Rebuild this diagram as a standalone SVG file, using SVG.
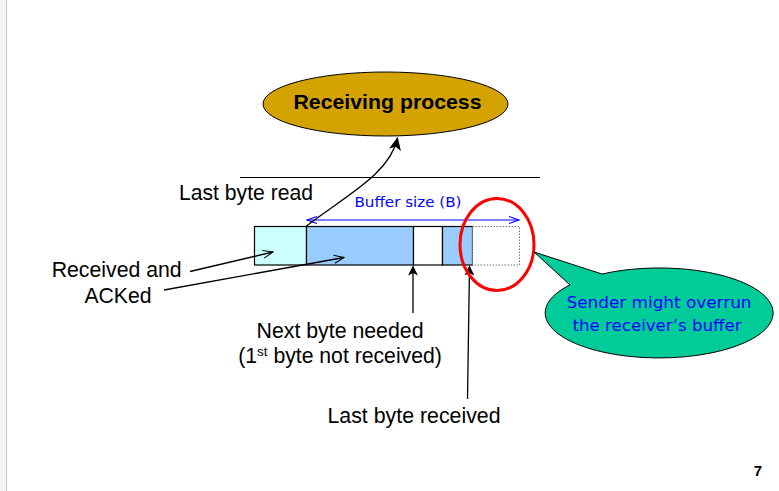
<svg xmlns="http://www.w3.org/2000/svg" width="779" height="491" viewBox="0 0 779 491">
<style>
.t{font-family:"Liberation Sans",Arial,sans-serif;font-size:21.2px;fill:#000}
.b{font-family:"DejaVu Sans",Verdana,sans-serif;fill:#0000FF}
.ln{stroke:#000;stroke-width:1.3;fill:none}
</style>
<defs>
<marker id="fh" markerWidth="10" markerHeight="10" refX="9" refY="5" orient="auto" markerUnits="userSpaceOnUse">
<path d="M0,0 L10,5 L0,10 L2.5,5 Z" fill="#000"/>
</marker>
<marker id="fh2" markerWidth="13" markerHeight="12" refX="12" refY="6" orient="auto" markerUnits="userSpaceOnUse">
<path d="M0,0 L13,6 L0,12 L3,6 Z" fill="#000"/>
</marker>
<marker id="oh" markerWidth="12" markerHeight="10" refX="11" refY="5" orient="auto" markerUnits="userSpaceOnUse">
<path d="M1,1 L11,5 L1,9" fill="none" stroke="#000" stroke-width="1"/>
</marker>
<marker id="bh" markerWidth="12" markerHeight="10" refX="11" refY="5" orient="auto-start-reverse" markerUnits="userSpaceOnUse">
<path d="M1,1.5 L11,5 L1,8.5" fill="none" stroke="#0000FF" stroke-width="1.2"/>
</marker>
</defs>
<rect x="0" y="0" width="779" height="491" fill="#fff"/>
<rect x="0" y="0" width="6" height="491" fill="#f3f3f3"/>
<line x1="6.5" y1="0" x2="6.5" y2="491" stroke="#c8c8c8" stroke-width="1"/>

<g id="receiving-process">
<ellipse cx="385.5" cy="104" rx="122.5" ry="32" fill="#D4A300" stroke="#000" stroke-width="1"/>
<text x="387.5" y="109" text-anchor="middle" style="font-family:'Liberation Sans',Arial,sans-serif;font-size:21px;font-weight:bold" textLength="188" lengthAdjust="spacingAndGlyphs">Receiving process</text>
</g>

<line x1="240" y1="177.5" x2="540" y2="177.5" stroke="#000" stroke-width="1"/>

<g id="buffer">
<rect x="254.5" y="226.5" width="52" height="38.5" fill="#CCFFFF" stroke="#000" stroke-width="1.2"/>
<rect x="306.5" y="226.5" width="107" height="38.5" fill="#99CCFF" stroke="#000" stroke-width="1.2"/>
<rect x="413.5" y="226.5" width="29" height="38.5" fill="#fff" stroke="#000" stroke-width="1.2"/>
<rect x="442.5" y="226.5" width="30" height="38.5" fill="#99CCFF" stroke="#000" stroke-width="1.2"/>
<rect x="472.5" y="226.5" width="47" height="38.5" fill="#fff" stroke="#555" stroke-width="0.8" stroke-dasharray="1.5,1.5"/>
</g>

<g id="buffer-size">
<line x1="307" y1="220" x2="519" y2="220" stroke="#0000FF" stroke-width="1.2" marker-start="url(#bh)" marker-end="url(#bh)"/>
<text class="b" x="408" y="207" text-anchor="middle" font-size="14" textLength="107" lengthAdjust="spacingAndGlyphs">Buffer size (B)</text>
</g>

<g id="labels">
<text class="t" x="246" y="199.5" text-anchor="middle" textLength="134" lengthAdjust="spacingAndGlyphs">Last byte read</text>
<text class="t" x="116.7" y="276.7" text-anchor="middle" textLength="130" lengthAdjust="spacingAndGlyphs">Received and</text>
<text class="t" x="118" y="302.7" text-anchor="middle">ACKed</text>
<text class="t" x="340" y="337.7" text-anchor="middle" textLength="167" lengthAdjust="spacingAndGlyphs">Next byte needed</text>
<text class="t" x="340" y="363.3" text-anchor="middle">(1<tspan font-size="13.5" dy="-7">st</tspan><tspan dy="7"> byte not received)</tspan></text>
<text class="t" x="414" y="422.7" text-anchor="middle" textLength="173" lengthAdjust="spacingAndGlyphs">Last byte received</text>
</g>

<g id="connectors">
<path d="M306.5,226 C345,196 390,174 397.5,138" class="ln" stroke-width="2.2" marker-end="url(#fh2)"/>
<line x1="190" y1="271.5" x2="273" y2="252" class="ln" marker-end="url(#oh)"/>
<line x1="164" y1="290" x2="344" y2="257.5" class="ln" marker-end="url(#oh)"/>
<line x1="413" y1="313" x2="413" y2="266.5" class="ln" marker-end="url(#fh)"/>
<line x1="467.5" y1="399" x2="469.5" y2="266.5" class="ln" marker-end="url(#fh)"/>
</g>

<g id="overrun-circle">
<ellipse cx="497" cy="244.5" rx="37" ry="46" fill="none" stroke="#FF0000" stroke-width="3"/>
</g>

<g id="callout">
<path d="M534,252 L570,284.9 A114,45 0 1 0 602,274 Z" fill="#00CC99" stroke="#000" stroke-width="1"/>
<text class="b" x="659" y="308" text-anchor="middle" font-size="16" textLength="185" lengthAdjust="spacingAndGlyphs">Sender might overrun</text>
<text class="b" x="657" y="331" text-anchor="middle" font-size="16" textLength="169" lengthAdjust="spacingAndGlyphs">the receiver’s buffer</text>
</g>

<text x="758" y="476" text-anchor="middle" style="font-family:'Liberation Sans',Arial,sans-serif;font-size:15px;font-weight:bold">7</text>
</svg>
